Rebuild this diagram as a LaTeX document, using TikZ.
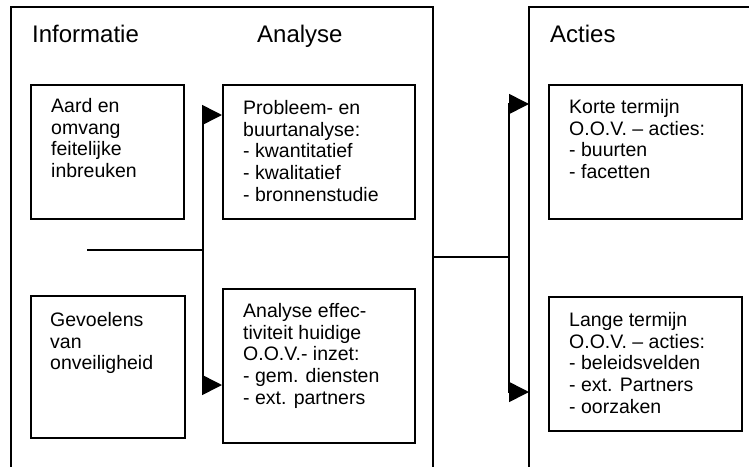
\documentclass[tikz,border=0pt]{standalone}
\usepackage{fontspec}
\setmainfont{Liberation Sans}
\usetikzlibrary{arrows.meta,calc}

\begin{document}
\begin{tikzpicture}[x=1pt,y=-1pt,
  frame/.style={line width=1.6pt},
  panel/.style={draw,line width=1.6pt,anchor=north west,inner sep=0pt},
  title/.style={anchor=north west,inner sep=0pt,font=\fontsize{24}{28}\selectfont},
  body/.style={anchor=north west,inner sep=0pt,align=left,font=\fontsize{19.5}{21.7}\selectfont},
  wire/.style={line width=1.6pt},
  arr/.style={line width=1.6pt,-{Triangle[length=20pt 0 0,width=20pt 0 0]}}]

  \useasboundingbox (0,0) rectangle (749,466);

  % two open frames: left (Informatie + Analyse), right (Acties)
  \coordinate (lfBL) at (11,470);
  \coordinate (lfTL) at (11,7);
  \coordinate (lfTR) at (433,7);
  \coordinate (lfBR) at (433,470);
  \coordinate (rfBL) at (529,470);
  \coordinate (rfTL) at (529,7);
  \coordinate (rfTR) at (753,7);
  \draw[frame] (lfBL) -- (lfTL) -- (lfTR) -- (lfBR);
  \draw[frame] (rfBL) -- (rfTL) -- (rfTR);

  % column titles
  \node[title] (tInfo) at (32,25) {Informatie};
  \node[title] (tAnal) at (257,25) {Analyse};
  \node[title] (tActs) at (550,25) {Acties};

  % boxes
  \node[panel,minimum width=153pt,minimum height=134pt] (aard) at (30,84) {};
  \node[panel,minimum width=154pt,minimum height=142pt] (gevo) at (30,295) {};
  \node[panel,minimum width=192pt,minimum height=134pt] (prob) at (222,84) {};
  \node[panel,minimum width=192pt,minimum height=154pt] (effe) at (222,288) {};
  \node[panel,minimum width=193pt,minimum height=134pt] (kort) at (548,84) {};
  \node[panel,minimum width=193pt,minimum height=134pt] (lang) at (548,296) {};

  % box texts
  \node[body] (aardT) at (51,98) {Aard en\\omvang\\feitelijke\\inbreuken};
  \node[body] (gevoT) at (50,312) {Gevoelens\\van\\onveiligheid};
  \node[body] (probT) at (243,100) {Probleem- en\\buurtanalyse:\\- kwantitatief\\- kwalitatief\\- bronnenstudie};
  \node[body] (effeT) at (243,303) {Analyse effec-\\tiviteit huidige\\O.O.V.- inzet:\\- gem. diensten\\- ext. partners};
  \node[body] (kortT) at (569,99) {Korte termijn\\O.O.V. – acties:\\- buurten\\- facetten};
  \node[body] (langT) at (569,312) {Lange termijn\\O.O.V. – acties:\\- beleidsvelden\\- ext. Partners\\- oorzaken};

  % information feeds the analysis
  \coordinate (inA) at (87,250);
  \coordinate (jA) at (203,250);
  \coordinate (probIn) at (prob.west |- 0,115);
  \coordinate (effeIn) at (effe.west |- 0,385);
  \draw[wire] (inA) -- (jA);
  \draw[arr] (jA) |- (probIn);
  \draw[arr] (jA) |- (effeIn);

  % analysis feeds the actions
  \coordinate (outB) at (lfTR |- 0,257);
  \coordinate (jB) at (509,257);
  \coordinate (kortIn) at (rfTL |- 0,104);
  \coordinate (langIn) at (rfTL |- 0,392);
  \draw[wire] (outB) -- (jB);
  \draw[arr] (jB) |- (kortIn);
  \draw[arr] (jB) |- (langIn);
\end{tikzpicture}
\end{document}
